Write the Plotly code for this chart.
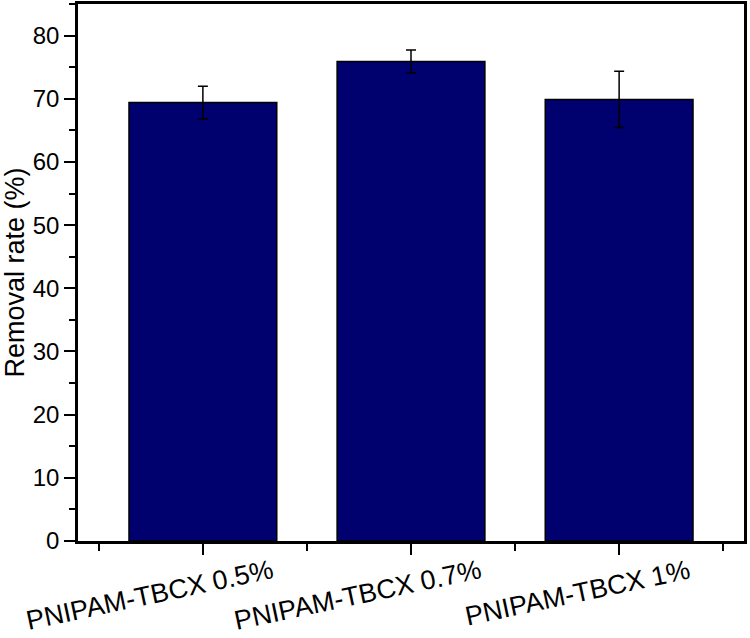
import plotly.graph_objects as go

# ------------------------------------------------------------------
# Data
# ------------------------------------------------------------------
samples = ['PNIPAM-TBCX 0.5%', 'PNIPAM-TBCX 0.7%', 'PNIPAM-TBCX 1%']
removal_rate = [69.4, 75.9, 69.9]
removal_err = [2.6, 1.8, 4.45]

FONT = 'Liberation Sans, Arial, sans-serif'
BAR_COLOR = '#00006E'

x_pos = list(range(len(samples)))

fig = go.Figure()
fig.add_trace(go.Bar(
    x=x_pos, y=removal_rate, width=0.71,
    marker=dict(color=BAR_COLOR, line=dict(color='black', width=1.5)),
    error_y=dict(type='data', array=removal_err, visible=True,
                 color='black', thickness=1.5, width=5),
    showlegend=False,
))

# rotated category labels (Origin style, offset to the right of tick)
for xi, name in zip(x_pos, samples):
    fig.add_annotation(
        x=xi, xref='x', y=0, yref='paper',
        text=name, showarrow=False, textangle=-12,
        xanchor='right', yanchor='top', xshift=76, yshift=-11,
        font=dict(family=FONT, size=27, color='black'),
    )

fig.update_layout(
    width=750, height=638,
    margin=dict(l=78, r=6, t=4, b=97, autoexpand=False),
    plot_bgcolor='white', paper_bgcolor='white',
    font=dict(family=FONT, color='black'),
)
fig.update_xaxes(
    range=[-0.6, 2.6], tickvals=x_pos, showticklabels=False,
    ticks='outside', ticklen=11, tickwidth=2, tickcolor='black',
    minor=dict(tick0=-0.5, dtick=1, ticks='outside', ticklen=7,
               tickwidth=2, tickcolor='black'),
    showline=True, linecolor='black', linewidth=2.5, mirror=True,
    showgrid=False, zeroline=False, automargin=False,
)
fig.update_yaxes(
    range=[0, 85], dtick=10, tick0=0,
    ticks='outside', ticklen=11, tickwidth=2, tickcolor='black',
    minor=dict(dtick=5, ticks='outside', ticklen=6, tickwidth=2,
               tickcolor='black'),
    tickfont=dict(family=FONT, size=24),
    title=dict(text='Removal rate (%)', font=dict(family=FONT, size=27),
               standoff=6),
    showline=True, linecolor='black', linewidth=2.5, mirror=True,
    showgrid=False, zeroline=False, automargin=False,
)

# drop the default 8px page margin so the figure fills the window
fig.write_html('out.html', config={'displayModeBar': False},
               post_script="document.body.style.margin='0';")
